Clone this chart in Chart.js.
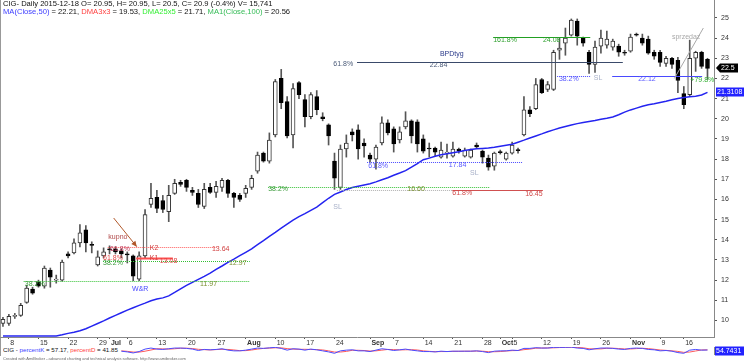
<!DOCTYPE html>
<html>
<head>
<meta charset="utf-8">
<script src="https://cdn.jsdelivr.net/npm/chart.js@4.4.1/dist/chart.umd.min.js"></script>
<style>
  body { margin: 0; background: #fff; width: 744px; height: 361px; overflow: hidden; position: relative; font-family: "Liberation Sans", Arial, sans-serif; }
  canvas { position: absolute; left: 0; }
  #main { top: 0; }
  #osc { top: 345px; }
  .hdr { position: absolute; left: 3px; font-size: 7.6px; line-height: 8px; white-space: nowrap; color: #111; }
  .small { font-size: 6.2px; }
  .frame { position: absolute; left: 0; top: 0; width: 1px; height: 356px; background: #999; }
  .credit { position: absolute; left: 3px; top: 356px; font-size: 4px; line-height: 5px; color: #666; white-space: nowrap; }
</style>
</head>
<body>
<div class="frame"></div>
<canvas id="main" width="744" height="347"></canvas>
<canvas id="osc" width="744" height="11"></canvas>
<div class="hdr" style="top:0">CIG- Daily 2015-12-18 O= 20.95, H= 20.95, L= 20.5, C= 20.9 (-0.4%) V= 15,741</div>
<div class="hdr" style="top:8px"><span style="color:#3c3cff">MA(Close,50)</span> = 22.21, <span style="color:#ff4040">DMA3x3</span> = 19.53, <span style="color:#33ee33">DMA25x5</span> = 21.71, <span style="color:#33bb55">MA1(Close,100)</span> = 20.56</div>
<div class="hdr small" style="top:346px;background:#fff;padding-right:2px">CIG - <span style="color:#3c3cff">percentK</span> = 57.17, <span style="color:#ff4040">percentD</span> = 41.85</div>
<div class="credit">Created with AmiBroker - advanced charting and technical analysis software. http://www.amibroker.com</div>
<script>
// trading days Jun 5 .. Nov 20 2015 (Nov 11 closed)
const dates = [
  '06-05','06-08','06-09','06-10','06-11','06-12','06-15','06-16','06-17','06-18','06-19',
  '06-22','06-23','06-24','06-25','06-26','06-29','06-30',
  '07-01','07-02','07-03','07-06','07-07','07-08','07-09','07-10','07-13','07-14','07-15','07-16','07-17',
  '07-20','07-21','07-22','07-23','07-24','07-27','07-28','07-29','07-30','07-31',
  '08-03','08-04','08-05','08-06','08-07','08-10','08-11','08-12','08-13','08-14','08-17','08-18','08-19',
  '08-20','08-21','08-24','08-25','08-26','08-27','08-28','08-31',
  '09-01','09-02','09-03','09-04','09-07','09-08','09-09','09-10','09-11','09-14','09-15','09-16','09-17',
  '09-18','09-21','09-22','09-23','09-24','09-25','09-28','09-29','09-30',
  '10-01','10-02','10-05','10-06','10-07','10-08','10-09','10-12','10-13','10-14','10-15','10-16','10-19',
  '10-20','10-21','10-22','10-23','10-26','10-27','10-28','10-29','10-30',
  '11-02','11-03','11-04','11-05','11-06','11-09','11-10','11-12','11-13','11-16','11-17','11-18','11-19','11-20'
];

const opens = [
  9.85, 9.85, 10.2, 10.25, 10.9, 11.55, 11.9, 11.7, 12.5, 12.0, 12.0,
  13.3, 13.35, 13.85, 14.5, 13.75, 12.75, 13.2,
  13.55, 13.55, 13.45, 13.28, 13.2, 12.05, 13.2, 15.75, 16.1, 15.95, 15.4, 16.3, 16.85,
  16.95, 16.45, 16.3, 15.65, 16.6, 16.35, 16.6, 16.95, 16.3, 16.2,
  16.3, 16.6, 17.4, 18.3, 17.9, 19.2, 22.0, 20.85, 19.2, 21.8, 20.95, 20.1, 21.1,
  20.1, 19.7, 17.9, 16.6, 18.5, 19.35, 19.45, 18.8,
  18.2, 18.0, 18.8, 19.8, 19.5, 18.95, 19.6, 19.9, 19.85, 19.0, 18.55, 18.55, 18.1,
  18.3, 18.15, 18.5, 18.15, 18.1, 18.7, 18.4, 18.05, 17.65,
  18.38, 18.0, 18.3, 18.45, 19.2, 20.45, 20.5, 21.95, 21.45, 21.45, 23.4, 23.75, 24.15,
  24.85, 24.0, 23.3, 22.7, 23.6, 23.65, 23.55, 23.6, 23.3,
  23.35, 24.2, 24.0, 23.95, 23.3, 23.3, 22.75, 23.0, 22.9, 21.25, 21.2, 23.0, 23.3, 22.95
];
const highs = [
  10.15, 10.3, 10.35, 10.85, 11.75, 11.65, 12.0, 12.7, 12.6, 12.25, 13.0,
  13.4, 14.05, 14.75, 14.7, 13.9, 13.45, 13.6,
  13.7, 13.65, 13.55, 13.4, 13.25, 13.4, 15.5, 16.8, 16.45, 16.2, 16.7, 17.0, 16.95,
  17.0, 16.6, 16.5, 16.8, 16.8, 16.9, 17.05, 17.0, 16.35, 16.3,
  16.7, 17.2, 18.35, 18.35, 19.3, 21.95, 22.45, 21.1, 21.75, 21.85, 21.2, 21.3, 21.4,
  20.3, 19.75, 18.3, 18.7, 19.2, 19.5, 19.7, 19.0,
  18.3, 18.7, 20.1, 19.95, 19.6, 19.6, 20.35, 19.95, 19.95, 19.2, 18.8, 18.6, 18.85,
  18.75, 18.85, 18.55, 18.55, 18.5, 18.8, 18.45, 18.2, 18.35,
  18.45, 18.35, 18.85, 18.55, 21.1, 20.6, 22.0, 22.0, 21.85, 23.4, 24.0, 24.5, 24.95,
  24.95, 24.05, 23.4, 23.85, 24.4, 24.35, 23.95, 23.7, 23.4,
  24.2, 24.25, 24.2, 24.1, 23.4, 23.4, 23.1, 23.05, 23.05, 21.6, 23.9, 23.35, 23.35, 23.0
];
const lows = [
  9.7, 9.75, 10.1, 10.2, 10.85, 11.3, 11.65, 11.6, 11.65, 11.85, 11.95,
  13.1, 13.3, 13.65, 13.4, 13.35, 12.7, 13.1,
  13.3, 13.3, 13.1, 12.85, 11.97, 11.97, 13.1, 15.6, 15.35, 15.35, 14.9, 16.25, 16.65,
  16.4, 16.2, 15.6, 15.55, 16.3, 16.1, 16.4, 16.1, 15.6, 15.9,
  16.1, 16.5, 17.3, 17.85, 17.8, 19.1, 20.5, 19.05, 18.55, 21.0, 19.6, 20.0, 20.2,
  19.9, 18.7, 16.5, 16.5, 18.1, 18.9, 18.0, 18.1,
  17.85, 17.5, 18.7, 19.2, 18.35, 18.8, 19.5, 18.8, 18.35, 18.3, 18.1, 18.15, 18.05,
  18.05, 18.1, 18.3, 18.1, 18.05, 18.55, 17.8, 17.45, 17.45,
  18.25, 17.95, 18.25, 18.3, 19.15, 20.1, 20.45, 21.25, 21.35, 21.4, 22.95, 23.15, 24.1,
  23.65, 23.6, 22.25, 22.3, 23.25, 23.5, 23.4, 23.1, 23.15,
  23.3, 24.1, 23.65, 23.2, 22.95, 22.6, 22.6, 22.5, 21.3, 20.5, 21.1, 22.35, 22.5, 21.95
];
const closes = [
  10.05, 10.2, 10.22, 10.75, 11.6, 11.35, 11.7, 12.6, 12.15, 12.02, 12.9,
  13.2, 13.85, 14.35, 13.85, 13.72, 13.15, 13.4,
  13.5, 13.4, 13.3, 13.25, 12.2, 13.2, 15.25, 16.05, 15.55, 15.5, 16.2, 16.8, 16.75,
  16.6, 16.35, 15.75, 16.5, 16.35, 16.65, 16.95, 16.3, 16.1, 16.0,
  16.55, 17.05, 18.2, 17.9, 18.95, 21.85, 20.8, 19.15, 21.5, 21.2, 20.1, 21.2, 20.45,
  20.0, 19.15, 17.05, 18.5, 18.8, 19.2, 18.5, 18.65,
  18.0, 18.6, 19.8, 19.3, 18.75, 19.35, 19.9, 19.15, 18.75, 18.4, 18.5, 18.35, 18.45,
  18.35, 18.5, 18.4, 18.45, 18.45, 18.6, 18.1, 17.6, 18.3,
  18.32, 18.3, 18.7, 18.42, 20.45, 20.25, 21.7, 21.3, 21.7, 23.3, 23.5, 24.0, 24.9,
  24.1, 23.75, 22.7, 23.55, 24.0, 23.95, 23.85, 23.3, 23.25,
  24.05, 24.15, 23.75, 23.25, 23.1, 22.8, 23.0, 22.7, 21.9, 20.7, 23.0, 23.3, 22.6, 22.5
];

// MA(Close,50) as drawn (left part sits on the bottom edge of the pane)
const ma50 = [
  9.23, 9.23, 9.23, 9.23, 9.23, 9.23, 9.23, 9.23, 9.23, 9.23, 9.29,
  9.36, 9.42, 9.49, 9.59, 9.72, 9.85, 9.98,
  10.12, 10.25, 10.38, 10.51, 10.63, 10.75, 10.86, 10.98, 11.06, 11.12, 11.22, 11.39, 11.57,
  11.74, 11.89, 12.04, 12.19, 12.35, 12.53, 12.7, 12.88, 13.04, 13.21,
  13.38, 13.55, 13.76, 13.96, 14.17, 14.37, 14.58, 14.78, 14.98, 15.15, 15.3, 15.46, 15.62,
  15.84, 16.06, 16.25, 16.37, 16.49, 16.59, 16.66, 16.72,
  16.78, 16.87, 16.98, 17.08, 17.2, 17.31, 17.43, 17.6, 17.78, 17.97, 18.05, 18.14, 18.22,
  18.27, 18.32, 18.37, 18.43, 18.48, 18.51, 18.53, 18.55, 18.59,
  18.64, 18.69, 18.74, 18.84, 18.94, 19.05, 19.15, 19.25, 19.36, 19.45, 19.54, 19.62, 19.69,
  19.76, 19.82, 19.87, 19.92, 19.98, 20.03, 20.09, 20.2, 20.33,
  20.44, 20.53, 20.62, 20.7, 20.75, 20.81, 20.87, 20.94, 21.01, 21.05, 21.09, 21.12, 21.18, 21.31
];

// stochastic pane, from Jul 3 onwards
const pctK = [
  40, 30, 15, 35, 70, 85, 70, 65, 75, 85, 85,
  80, 70, 50, 65, 60, 65, 75, 55, 45, 45,
  55, 70, 85, 80, 88, 95, 80, 55, 75, 70,
  55, 70, 60, 45, 30, 10, 45, 55, 60, 45,
  45, 35, 55, 75, 65, 50, 60, 70, 55, 45,
  35, 35, 30, 40, 35, 40, 40, 40, 40, 45,
  35, 20, 40, 45, 45, 55, 50, 80, 80, 90,
  85, 85, 95, 95, 95, 98, 85, 80, 60, 75,
  85, 85, 80, 70, 65, 80, 85, 80, 65, 60,
  45, 50, 40, 20, 10, 55, 65, 55, 57
];
const pctD = [
  45, 38, 28, 27, 40, 57, 75, 73, 70, 75, 82,
  83, 78, 67, 62, 58, 63, 67, 65, 58, 48,
  48, 57, 70, 80, 84, 88, 88, 77, 70, 67,
  67, 65, 62, 58, 45, 28, 28, 37, 53, 53,
  50, 42, 45, 55, 65, 63, 58, 60, 62, 57,
  45, 38, 33, 35, 35, 38, 38, 40, 40, 42,
  40, 33, 32, 35, 43, 48, 50, 62, 70, 83,
  85, 87, 88, 92, 95, 96, 93, 88, 75, 72,
  73, 82, 83, 78, 72, 72, 77, 82, 77, 68,
  57, 52, 45, 37, 23, 28, 43, 58, 59
];
const oscStart = 20;

const yTicks = [10, 11, 12, 13, 14, 15, 16, 17, 18, 19, 20, 21, 22, 23, 24, 25];
const xTickText = {
  '06-08': '8', '06-15': '15', '06-22': '22', '06-29': '29', '07-01': 'Jul', '07-06': '6',
  '07-13': '13', '07-20': '20', '07-27': '27', '08-03': 'Aug', '08-10': '10', '08-17': '17',
  '08-24': '24', '09-01': 'Sep', '09-07': '7', '09-14': '14', '09-21': '21', '09-28': '28',
  '10-01': 'Oct', '10-05': '5', '10-12': '12', '10-19': '19', '10-26': '26', '11-02': 'Nov',
  '11-09': '9', '11-16': '16'
};
const months = ['Jul', 'Aug', 'Sep', 'Oct', 'Nov'];
const lastClose = 22.5;
const lastMa = 21.3108;
const lastOsc = 54.7431;

// study lines drawn on the price pane (from/to are bar positions)
const levels = [
  { value: 11.97, from: 3.5, to: 41.7, color: '#33c033', dash: [1, 1] },
  { value: 12.97, from: 16.9, to: 41.7, color: '#33c033', dash: [1, 1] },
  { value: 13.64, from: 17.7, to: 36.1, color: '#ff5a5a', dash: [1, 1] },
  { value: 13.08, from: 22.5, to: 28.7, color: '#ff5050', width: 2 },
  { value: 16.60, from: 44.8, to: 82.3, color: '#33c033', dash: [1, 1] },
  { value: 16.45, from: 56.4, to: 75.9, color: '#b0b0b0', dash: [1, 1] },
  { value: 16.45, from: 75.9, to: 91.2, color: '#d05050' },
  { value: 17.84, from: 61.5, to: 87.8, color: '#4a4aff', dash: [1, 1] },
  { value: 22.84, from: 59.8, to: 104.7, color: '#3a4a6a' },
  { value: 24.08, from: 82.8, to: 99.2, color: '#22a022' },
  { value: 22.12, from: 93.6, to: 99.2, color: '#4a4aff', dash: [1, 1] },
  { value: 22.12, from: 102.9, to: 118.1, color: '#4a4aff' }
];
const notesText = [
  { at: 3.7, value: 11.80, text: '38.2%', color: '#3a9a3a' },
  { at: 33.3, value: 11.80, text: '11.97', color: '#7a9030' },
  { at: 16.9, value: 12.83, text: '38.2%', color: '#3a9a3a' },
  { at: 16.9, value: 13.08, text: '61.8%', color: '#e04848' },
  { at: 38.2, value: 12.85, text: '12.97', color: '#7a9030' },
  { at: 18.1, value: 13.55, text: '61.8%', color: '#c04060' },
  { at: 24.8, value: 13.60, text: 'K2', color: '#d04040' },
  { at: 35.3, value: 13.55, text: '13.64', color: '#d04040' },
  { at: 24.8, value: 13.10, text: 'K1', color: '#d04040' },
  { at: 26.5, value: 12.95, text: '13.08', color: '#e04040' },
  { at: 17.8, value: 14.14, text: 'kupno', color: '#b04848' },
  { at: 21.8, value: 11.56, text: 'W&R', color: '#4848ff' },
  { at: 44.8, value: 16.52, text: '38.2%', color: '#3a9a3a' },
  { at: 68.3, value: 16.52, text: '16.60', color: '#7a9030' },
  { at: 55.8, value: 15.63, text: 'SL', color: '#a8b0c8' },
  { at: 75.9, value: 16.30, text: '61.8%', color: '#d04848' },
  { at: 88.2, value: 16.27, text: '16.45', color: '#d04848' },
  { at: 61.7, value: 17.66, text: '61.8%', color: '#5a5aff' },
  { at: 75.3, value: 17.71, text: '17.84', color: '#5a5aff' },
  { at: 78.9, value: 17.29, text: 'SL', color: '#a8b0c8' },
  { at: 55.8, value: 22.72, text: '61.8%', color: '#4a5a78' },
  { at: 72.1, value: 22.67, text: '22.84', color: '#4a5a78' },
  { at: 73.8, value: 23.19, text: 'BPDtyg', color: '#2a3a8a' },
  { at: 82.8, value: 23.91, text: '161.8%', color: '#30a030' },
  { at: 91.2, value: 23.91, text: '24.08', color: '#30a030' },
  { at: 93.9, value: 21.97, text: '38.2%', color: '#5a5aff' },
  { at: 99.8, value: 22.02, text: 'SL', color: '#a8b0c8' },
  { at: 107.3, value: 21.95, text: '22.12', color: '#5a5aff' },
  { at: 116.1, value: 21.90, text: '+79.8%', color: '#33b033' },
  { at: 113.0, value: 24.06, text: 'sprzedaz', color: '#a8a8a8' }
];
const arrows = [
  { from: [18.7, 15.08], to: [22.6, 13.66], color: '#b0582a', head: true },
  { from: [113.4, 22.0], to: [118.3, 24.5], color: '#a8a8a8', head: false }
];

const FONT = '"Liberation Sans", Arial, sans-serif';
const idx = dates.map((d, i) => i);

const studyPlugin = {
  id: 'study',
  afterDatasetsDraw(chart) {
    const { ctx, scales: { x, y } } = chart;
    ctx.save();
    levels.forEach(l => {
      const py = Math.round(y.getPixelForValue(l.value)) + 0.5;
      ctx.strokeStyle = l.color;
      ctx.lineWidth = l.width || 1;
      ctx.setLineDash(l.dash || []);
      ctx.beginPath();
      ctx.moveTo(x.getPixelForValue(l.from), py);
      ctx.lineTo(x.getPixelForValue(l.to), py);
      ctx.stroke();
    });
    ctx.setLineDash([]);
    arrows.forEach(a => {
      const x0 = x.getPixelForValue(a.from[0]), y0 = y.getPixelForValue(a.from[1]);
      const x1 = x.getPixelForValue(a.to[0]), y1 = y.getPixelForValue(a.to[1]);
      ctx.strokeStyle = a.color;
      ctx.fillStyle = a.color;
      ctx.lineWidth = 1;
      ctx.beginPath(); ctx.moveTo(x0, y0); ctx.lineTo(x1, y1); ctx.stroke();
      if (a.head) {
        const ang = Math.atan2(y1 - y0, x1 - x0);
        ctx.beginPath();
        ctx.moveTo(x1, y1);
        ctx.lineTo(x1 - 6 * Math.cos(ang - 0.45), y1 - 6 * Math.sin(ang - 0.45));
        ctx.lineTo(x1 - 6 * Math.cos(ang + 0.45), y1 - 6 * Math.sin(ang + 0.45));
        ctx.closePath(); ctx.fill();
      }
    });
    ctx.font = '7px ' + FONT;
    ctx.textBaseline = 'middle';
    ctx.textAlign = 'left';
    notesText.forEach(n => {
      ctx.fillStyle = n.color;
      ctx.fillText(n.text, x.getPixelForValue(n.at), y.getPixelForValue(n.value));
    });
    ctx.restore();
  },
  afterDraw(chart) {
    const { ctx, scales: { y } } = chart;
    const right = chart.chartArea.right;
    ctx.save();
    ctx.font = '7px ' + FONT;
    ctx.textBaseline = 'middle';
    // last close marker
    let py = Math.round(y.getPixelForValue(lastClose));
    ctx.fillStyle = '#000';
    ctx.beginPath();
    ctx.moveTo(right + 2, py);
    ctx.lineTo(right + 6, py - 4.5);
    ctx.lineTo(right + 24, py - 4.5);
    ctx.lineTo(right + 24, py + 4.5);
    ctx.lineTo(right + 6, py + 4.5);
    ctx.closePath(); ctx.fill();
    ctx.fillStyle = '#fff';
    ctx.fillText(String(lastClose), right + 7, py + 0.5);
    // MA marker
    py = Math.round(y.getPixelForValue(lastMa));
    ctx.fillStyle = '#2222ff';
    ctx.fillRect(right + 2, py - 4.5, 30, 9);
    ctx.fillStyle = '#fff';
    ctx.fillText(String(lastMa), right + 3, py + 0.5);
    ctx.restore();
  }
};

new Chart(document.getElementById('main'), {
  type: 'bar',
  data: {
    datasets: [
      {
        label: 'wick',
        data: idx.map(i => ({ x: i, y: [lows[i], highs[i]] })),
        backgroundColor: '#555',
        barThickness: 1,
        grouped: false,
        order: 3
      },
      {
        label: 'body',
        data: idx.map(i => ({ x: i, y: [Math.min(opens[i], closes[i]), Math.max(opens[i], closes[i])] })),
        backgroundColor: idx.map(i => closes[i] >= opens[i] ? '#fff' : '#000'),
        borderColor: idx.map(i => closes[i] >= opens[i] ? '#333' : '#000'),
        borderWidth: 1,
        borderSkipped: false,
        barThickness: 4,
        minBarLength: 1,
        grouped: false,
        order: 2
      },
      {
        type: 'line',
        label: 'MA(Close,50)',
        data: idx.map(i => ({ x: i, y: ma50[i] })),
        borderColor: '#2424f0',
        borderWidth: 1.5,
        pointRadius: 0,
        order: 1
      }
    ]
  },
  options: {
    responsive: false,
    animation: false,
    devicePixelRatio: 1,
    layout: { padding: 0 },
    plugins: { legend: { display: false }, tooltip: { enabled: false } },
    scales: {
      x: {
        type: 'linear',
        min: -0.5,
        max: 120.1,
        offset: false,
        afterBuildTicks: s => { s.ticks = idx.filter(i => xTickText[dates[i]]).map(i => ({ value: i })); },
        afterFit: s => { s.height = 10; s.paddingLeft = 0; s.paddingRight = 0; },
        grid: { offset: false, drawOnChartArea: false, tickLength: 2, color: '#555' },
        border: { color: '#888' },
        ticks: {
          autoSkip: false,
          maxRotation: 0,
          align: 'start',
          padding: 0,
          color: '#333',
          callback: v => '\u2009' + (xTickText[dates[v]] || ''),
          font: ctx => {
            const t = xTickText[dates[ctx.tick && ctx.tick.value]];
            return { family: FONT, size: 7, weight: months.includes(t) ? 'bold' : 'normal' };
          }
        }
      },
      y: {
        position: 'right',
        min: 9.18,
        max: 25.89,
        afterBuildTicks: s => { s.ticks = yTicks.map(v => ({ value: v })); },
        afterFit: s => { s.width = 30; s.paddingTop = 0; s.paddingBottom = 0; },
        grid: { drawOnChartArea: false, tickLength: 3, color: '#555' },
        border: { color: '#888' },
        ticks: { padding: 4, color: '#333', font: { family: FONT, size: 7 } }
      }
    }
  },
  plugins: [studyPlugin]
});

const oscPlugin = {
  id: 'oscBox',
  afterDraw(chart) {
    const { ctx } = chart;
    const right = chart.chartArea.right;
    ctx.save();
    ctx.fillStyle = '#2222ff';
    ctx.fillRect(right + 1, 1.5, 29, 9);
    ctx.fillStyle = '#fff';
    ctx.font = '7px ' + FONT;
    ctx.textBaseline = 'middle';
    ctx.fillText(String(lastOsc), right + 2, 6.5);
    ctx.restore();
  }
};

new Chart(document.getElementById('osc'), {
  type: 'line',
  data: {
    datasets: [
      {
        data: pctK.map((v, k) => ({ x: k + oscStart, y: v })),
        borderColor: '#4a4aff', borderWidth: 1, pointRadius: 0
      },
      {
        data: pctD.map((v, k) => ({ x: k + oscStart, y: v })),
        borderColor: '#ff5a5a', borderWidth: 1, pointRadius: 0
      }
    ]
  },
  options: {
    responsive: false,
    animation: false,
    devicePixelRatio: 1,
    layout: { padding: { top: 2, bottom: 2 } },
    plugins: { legend: { display: false }, tooltip: { enabled: false } },
    scales: {
      x: { type: 'linear', min: -0.5, max: 120.1, display: false },
      y: {
        position: 'right', min: 0, max: 100,
        afterFit: s => { s.width = 30; s.paddingTop = 0; s.paddingBottom = 0; },
        grid: { display: false },
        border: { color: '#888' },
        ticks: { display: false }
      }
    }
  },
  plugins: [oscPlugin]
});
</script>
</body>
</html>
